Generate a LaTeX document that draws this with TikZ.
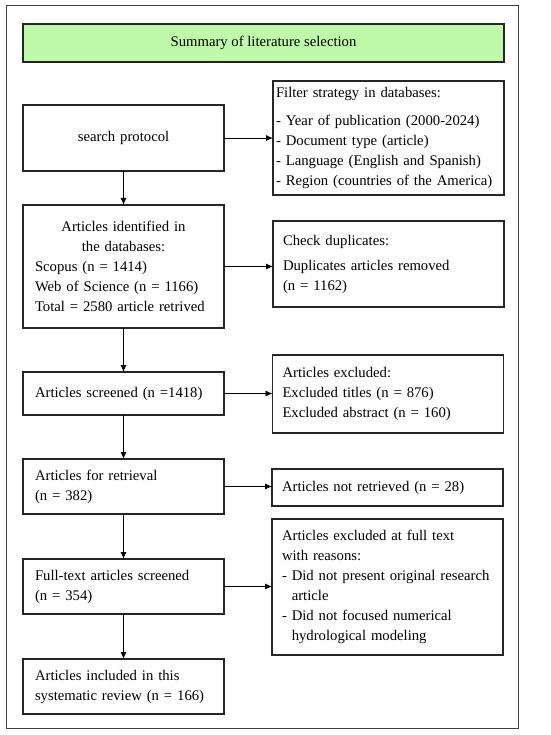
\documentclass[tikz,border=0pt]{standalone}
\usepackage{fontspec}
\setmainfont{Liberation Serif}
\usetikzlibrary{arrows.meta}
\hyphenpenalty=10000
\definecolor{titlegreen}{RGB}{190,250,170}
\tikzset{
  box/.style={draw=black!85, line width=1.1pt, outer sep=0pt, inner ysep=0pt,
    font=\fontsize{14.7pt}{20pt}\selectfont, align=left},
  leftbox/.style={box, inner xsep=12pt, text width=177pt},
  rightbox/.style={box, inner xsep=10pt, text width=211pt},
  arr/.style={-{Latex[length=7pt,width=6pt]}, line width=0.8pt},
}

\begin{document}
\begin{tikzpicture}[x=1pt,y=-1pt]
         \useasboundingbox (0,0) rectangle (550,735);
         \draw [black!75, line width=0.9pt] (6,5) rectangle (518,728);

         \node [box, fill=titlegreen, align=center, minimum width=481pt, minimum height=38pt]
           (title) at (263.5,43) {Summary of literature selection};

         % left column
         \node [leftbox, align=center, minimum height=66pt] (search) at (123.5,138) {search protocol};
         \node [leftbox, minimum height=123pt] (ident) at (123.5,266.5)
           {{\centering Articles identified in\\ the databases:\par}
            Scopus (n = 1414)\\ Web of Science (n = 1166)\\ Total = 2580 article retrived};
         \node [leftbox, minimum height=43pt] (screen) at (123.5,393.5) {Articles screened (n =1418)};
         \node [leftbox, minimum height=55pt] (retr) at (123.5,486.5) {Articles for retrieval\\ (n = 382)};
         \node [leftbox, minimum height=55pt] (full) at (123.5,586.5) {Full-text articles screened\\ (n = 354)};
         \node [leftbox, minimum height=55pt] (incl) at (123.5,686.5)
           {Articles included in this\\ systematic review (n = 166)};

         % right column
         \node [rightbox, inner xsep=3pt, text width=225pt, minimum height=114pt] (filter) at (388.5,138)
           {Filter strategy in databases:\\[8pt] - Year of publication (2000-2024)\\ - Document type (article)\\
            - Language (English and Spanish)\\ - Region (countries of the America)};
         \node [rightbox, minimum height=86pt] (dupl) at (388.5,264)
           {Check duplicates:\\[5pt] Duplicates articles removed\\ (n = 1162)};
         \node [rightbox, minimum height=78pt] (excl) at (388,394)
           {Articles excluded:\\ Excluded titles (n = 876)\\ Excluded abstract (n = 160)};
         \node [rightbox, minimum height=37pt] (notretr) at (387.5,487.5) {Articles not retrieved (n = 28)};
         \node [rightbox, minimum height=136pt] (exclfull) at (387.5,587)
           {Articles excluded at full text\\ with reasons:\\ - Did not present original research\\
            \phantom{- }article\\ - Did not focused numerical\\ \phantom{- }hydrological modeling};

         % connectors
         \draw [arr] (search) -- (ident);
         \draw [arr] (ident) -- (screen);
         \draw [arr] (screen) -- (retr);
         \draw [arr] (retr) -- (full);
         \draw [arr] (full) -- (incl);
         \draw [arr] (search.east) -- (search.east -| filter.west);
         \draw [arr] (ident.east) -- (ident.east -| dupl.west);
         \draw [arr] (screen.east) -- (screen.east -| excl.west);
         \draw [arr] (retr.east) -- (retr.east -| notretr.west);
         \draw [arr] (full.east) -- (full.east -| exclfull.west);
       \end{tikzpicture}
\end{document}
